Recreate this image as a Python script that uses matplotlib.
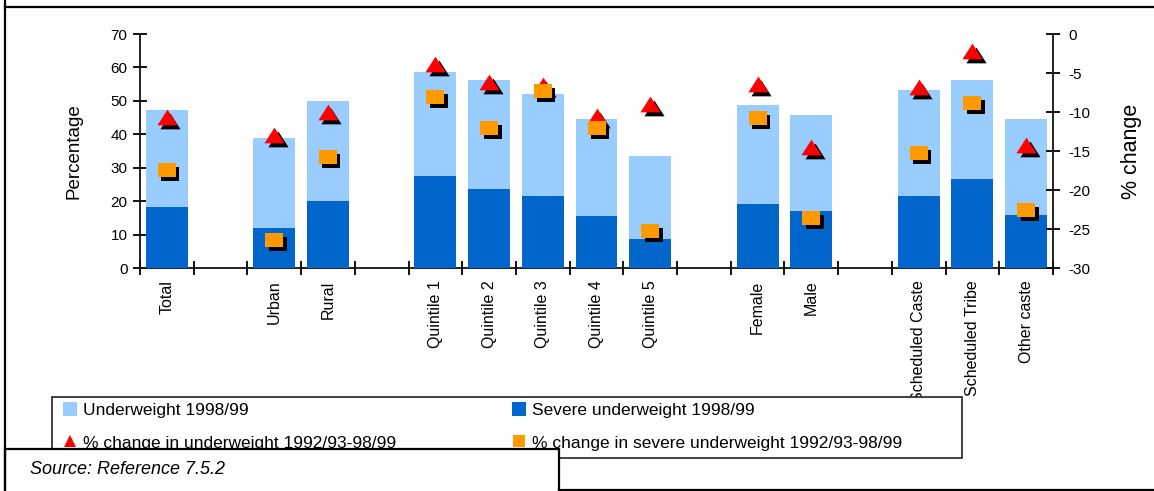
import matplotlib
matplotlib.use("Agg")
import matplotlib.pyplot as plt
import numpy as np
from matplotlib.path import Path
from matplotlib.transforms import offset_copy
from matplotlib.patches import Rectangle, Patch
from matplotlib.lines import Line2D

plt.rcParams['font.family'] = ['Liberation Sans', 'DejaVu Sans']
plt.rcParams['axes.unicode_minus'] = False

# ---- data ----
categories = ['Total', 'Urban', 'Rural', 'Quintile 1', 'Quintile 2', 'Quintile 3',
              'Quintile 4', 'Quintile 5', 'Female', 'Male', 'Scheduled Caste',
              'Scheduled Tribe', 'Other caste']
group_sizes = [1, 2, 5, 2, 3]
underweight = [47.4, 39.0, 49.9, 58.7, 56.2, 52.2, 44.5, 33.5, 48.9, 45.9, 53.2, 56.2, 44.5]
severe = [18.1, 12.1, 20.0, 27.5, 23.5, 21.6, 15.7, 8.7, 19.1, 17.1, 21.5, 26.5, 16.0]
chg_under = [-10.6, -12.9, -10.0, -3.9, -6.1, -6.5, -10.5, -9.0, -6.4, -14.5, -6.8, -2.2, -14.2]
chg_severe = [-17.4, -26.4, -15.8, -8.1, -12.0, -7.3, -12.1, -25.3, -10.8, -23.6, -15.2, -8.8, -22.6]
left_ticks = [0, 10, 20, 30, 40, 50, 60, 70]
right_ticks = [0, -5, -10, -15, -20, -25, -30]

# slot positions: groups separated by one empty slot
pos = []
s = 0
for g in group_sizes:
    for i in range(g):
        pos.append(s)
        s += 1
    s += 1
nslots = s - 1
pos = np.array(pos)

light = '#99CCFF'
dark = '#0066CC'
red = '#FF0000'
orange = '#FF9900'

W, H = 1154, 491
fig = plt.figure(figsize=(W / 100, H / 100), dpi=100)
ax = fig.add_axes([140 / W, 1 - 268 / H, (1053 - 140) / W, (268 - 34) / H])
ax2 = ax.twinx()

bw = 0.78
ax.bar(pos, underweight, width=bw, color=light, zorder=2)
ax.bar(pos, severe, width=bw, color=dark, zorder=3)

ax.set_xlim(-0.5, nslots - 0.5)
ax.set_ylim(0, 70)
ax2.set_ylim(-30, 0)

# custom markers (slightly wide, like the original)
tri = Path([(0, 0.78), (-1, -0.78), (1, -0.78), (0, 0.78)],
           [Path.MOVETO, Path.LINETO, Path.LINETO, Path.CLOSEPOLY])
sq = Path([(-1, -0.83), (1, -0.83), (1, 0.83), (-1, 0.83), (-1, -0.83)],
          [Path.MOVETO, Path.LINETO, Path.LINETO, Path.LINETO, Path.CLOSEPOLY])

shadow = offset_copy(ax2.transData, fig=fig, x=3.5, y=-4, units='dots')
ax2.plot(pos, chg_severe, ls='none', marker=sq, ms=13, color='black', mew=0,
         transform=shadow, zorder=4)
ax2.plot(pos, chg_severe, ls='none', marker=sq, ms=13, color=orange, mew=0, zorder=5)
ax2.plot(pos, chg_under, ls='none', marker=tri, ms=14.5, color='black', mew=0,
         transform=shadow, zorder=2)
ax2.plot(pos, chg_under, ls='none', marker=tri, ms=14.5, color=red, mew=0, zorder=3)

# axes styling
for a in (ax, ax2):
    a.spines['top'].set_visible(False)
    for sp in a.spines.values():
        sp.set_linewidth(1.3)
        sp.set_color('#111111')
    a.set_facecolor('none')
ax.spines['right'].set_visible(False)
ax2.spines['left'].set_visible(False)
ax2.spines['bottom'].set_visible(False)

ax.set_yticks(left_ticks)
ax.set_yticklabels([str(v) for v in left_ticks], fontsize=11)
ax2.set_yticks(right_ticks)
ax2.set_yticklabels([str(v) for v in right_ticks], fontsize=11)

ax.set_xticks(pos)
ax.set_xticklabels(categories, rotation=90, fontsize=11.5, va='top', ha='center')
ax.tick_params(axis='x', length=0, pad=9)
ax.set_xticks(np.arange(-0.5, nslots, 1.0), minor=True)
ax.tick_params(axis='x', which='minor', direction='inout', length=10, width=1.3)
ax.tick_params(axis='y', direction='inout', length=10, width=1.3, pad=4)
ax2.tick_params(axis='y', direction='inout', length=10, width=1.3, pad=6)

ax.set_ylabel('Percentage', fontsize=13.5, labelpad=20)
ax2.set_ylabel('% change', fontsize=15.5, labelpad=22)

# legend: frame box + two columns
fig.add_artist(Rectangle((52 / W, 1 - 458 / H), (962 - 52) / W, (458 - 397) / H,
                         transform=fig.transFigure, facecolor='white',
                         edgecolor='#222222', lw=1.2, zorder=10))
col1_h = [Patch(facecolor=light, edgecolor='none'),
          Line2D([], [], ls='none', marker='^', ms=9, color=red, mew=0)]
col1_l = ['Underweight 1998/99', '% change in underweight 1992/93-98/99']
col2_h = [Patch(facecolor=dark, edgecolor='none'),
          Line2D([], [], ls='none', marker='s', ms=9, color=orange, mew=0)]
col2_l = ['Severe underweight 1998/99', '% change in severe underweight 1992/93-98/99']
for hs, ls_, x0 in ((col1_h, col1_l, 60), (col2_h, col2_l, 509)):
    lg = fig.legend(hs, ls_, loc='upper left', bbox_to_anchor=(x0 / W, 1 - 399 / H),
                    fontsize=12.5, frameon=False, handlelength=0.8,
                    handleheight=0.8, handletextpad=0.35, borderaxespad=0,
                    borderpad=0.2, labelspacing=0.98)
    lg.set_zorder(11)

# outer frame lines (figure coords)
lw = 1.6
fig.add_artist(Line2D([5 / W, 1], [1 - 7 / H, 1 - 7 / H], color='black', lw=lw, zorder=20))
fig.add_artist(Line2D([5 / W, 5 / W], [0, 1], color='black', lw=lw, zorder=20))
fig.add_artist(Line2D([559 / W, 1], [1 / H, 1 / H], color='black', lw=lw, zorder=20))

# source box
fig.add_artist(Rectangle((5 / W, -0.02), (559 - 5) / W, 0.02 + (491 - 449) / H,
                         transform=fig.transFigure, facecolor='white',
                         edgecolor='black', lw=lw, zorder=15))
fig.text(30 / W, 1 - 470 / H, 'Source: Reference 7.5.2', fontsize=13,
         style='italic', va='center', ha='left', zorder=16)

fig.savefig('out.png', dpi=100)
